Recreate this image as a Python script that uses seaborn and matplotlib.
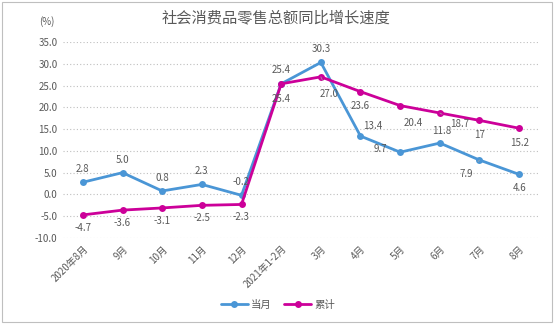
import matplotlib
matplotlib.use("Agg")
import matplotlib.pyplot as plt
import seaborn as sns
import pandas as pd
from matplotlib.patches import Rectangle

categories = ["2020年8月", "9月", "10月", "11月", "12月", "2021年1-2月",
              "3月", "4月", "5月", "6月", "7月", "8月"]
monthly = [2.8, 5.0, 0.8, 2.3, -0.2, 25.4, 30.3, 13.4, 9.7, 11.8, 7.9, 4.6]
cumulative = [-4.7, -3.6, -3.1, -2.5, -2.3, 25.4, 27.0, 23.6, 20.4, 18.7, 17.0, 15.2]
monthly_labels = ["2.8", "5.0", "0.8", "2.3", "-0.2", "25.4", "30.3", "13.4", "9.7", "11.8", "7.9", "4.6"]
cumulative_labels = ["-4.7", "-3.6", "-3.1", "-2.5", "-2.3", "25.4", "27.0", "23.6", "20.4", "18.7", "17", "15.2"]
series_names = ["当月", "累计"]
yticks = [-10, -5, 0, 5, 10, 15, 20, 25, 30, 35]

sns.set_theme(style="white")
plt.rcParams['font.family'] = ['Noto Sans CJK SC', 'DejaVu Sans']

BLUE = "#4A96D6"
MAGENTA = "#CC0099"
GREY = "#595959"

df = pd.DataFrame({
    "cat": categories * 2,
    "val": monthly + cumulative,
    "series": [series_names[0]] * len(categories) + [series_names[1]] * len(categories),
})

fig = plt.figure(figsize=(5.54, 3.24), dpi=100)
ax = fig.add_axes([63 / 554, 1 - 238 / 324, 476 / 554, 196 / 324])

sns.lineplot(data=df, x="cat", y="val", hue="series", palette=[BLUE, MAGENTA],
             marker="o", markersize=5, markeredgewidth=0, linewidth=2,
             sort=False, ax=ax, legend=True)

ax.set_xlim(-0.5, len(categories) - 0.5)
ax.set_ylim(-10, 35)
ax.set_yticks(yticks)
ax.set_yticklabels([f"{v:.1f}" for v in yticks], color=GREY, fontsize=7)
ax.set_xticks(range(len(categories)))
ax.set_xticklabels(categories, rotation=45, ha="right", va="top",
                   rotation_mode="anchor", color=GREY, fontsize=7)
ax.tick_params(axis="both", length=0, pad=4)
ax.set_xlabel("")
ax.set_ylabel("")
for s in ax.spines.values():
    s.set_visible(False)
ax.yaxis.grid(True, color="#BFBFBF", linestyle=(0, (1, 2)), linewidth=0.8)
ax.xaxis.grid(False)
ax.set_axisbelow(True)

# data labels (offsets in pixels)
m_off = [(0, 13), (0, 13), (0, 13), (0, 13), (0, 13), (0, 14), (0, 13),
         (12, 10), (-20, 3), (2, 12), (-13, -14), (0, -14)]
c_off = [(0, -13), (0, -13), (0, -13), (0, -13), (0, -13), (0, -15), (8, -17),
         (0, -14), (13, -17), (20, -11), (0, -15), (0, -15)]
lead_c = {6, 9}
lead_m = {10, 11}
for i, (v, t) in enumerate(zip(monthly, monthly_labels)):
    kw = {}
    if i in lead_m:
        kw["arrowprops"] = dict(arrowstyle="-", color="#A6A6A6", lw=0.5, shrinkA=4, shrinkB=3)
    ax.annotate(t, (i, v), xytext=m_off[i], textcoords="offset pixels",
                ha="center", va="center", fontsize=7, color=GREY, **kw)
for i, (v, t) in enumerate(zip(cumulative, cumulative_labels)):
    kw = {}
    if i in lead_c:
        kw["arrowprops"] = dict(arrowstyle="-", color="#A6A6A6", lw=0.5, shrinkA=4, shrinkB=3)
    ax.annotate(t, (i, v), xytext=c_off[i], textcoords="offset pixels",
                ha="center", va="center", fontsize=7, color=GREY, **kw)

handles, labels = ax.get_legend_handles_labels()
ax.legend(handles, labels, loc="center", bbox_to_anchor=(278 / 554, 1 - 305 / 324),
          bbox_transform=fig.transFigure, ncol=2, frameon=False, fontsize=7.5,
          labelcolor=GREY, handlelength=2.6, columnspacing=1.2, handletextpad=0.3)

fig.text(276 / 554, 1 - 18 / 324, "社会消费品零售总额同比增长速度", ha="center", va="center",
         fontsize=11, color=GREY, fontweight="medium")
fig.text(47 / 554, 1 - 22 / 324, "(%)", ha="center", va="center", fontsize=7, color=GREY)

fig.patches.append(Rectangle((2 / 554, 2 / 324), 550 / 554, 320 / 324, transform=fig.transFigure,
                             fill=False, edgecolor="#BFBFBF", linewidth=0.8))

fig.savefig("out.png", dpi=100)
